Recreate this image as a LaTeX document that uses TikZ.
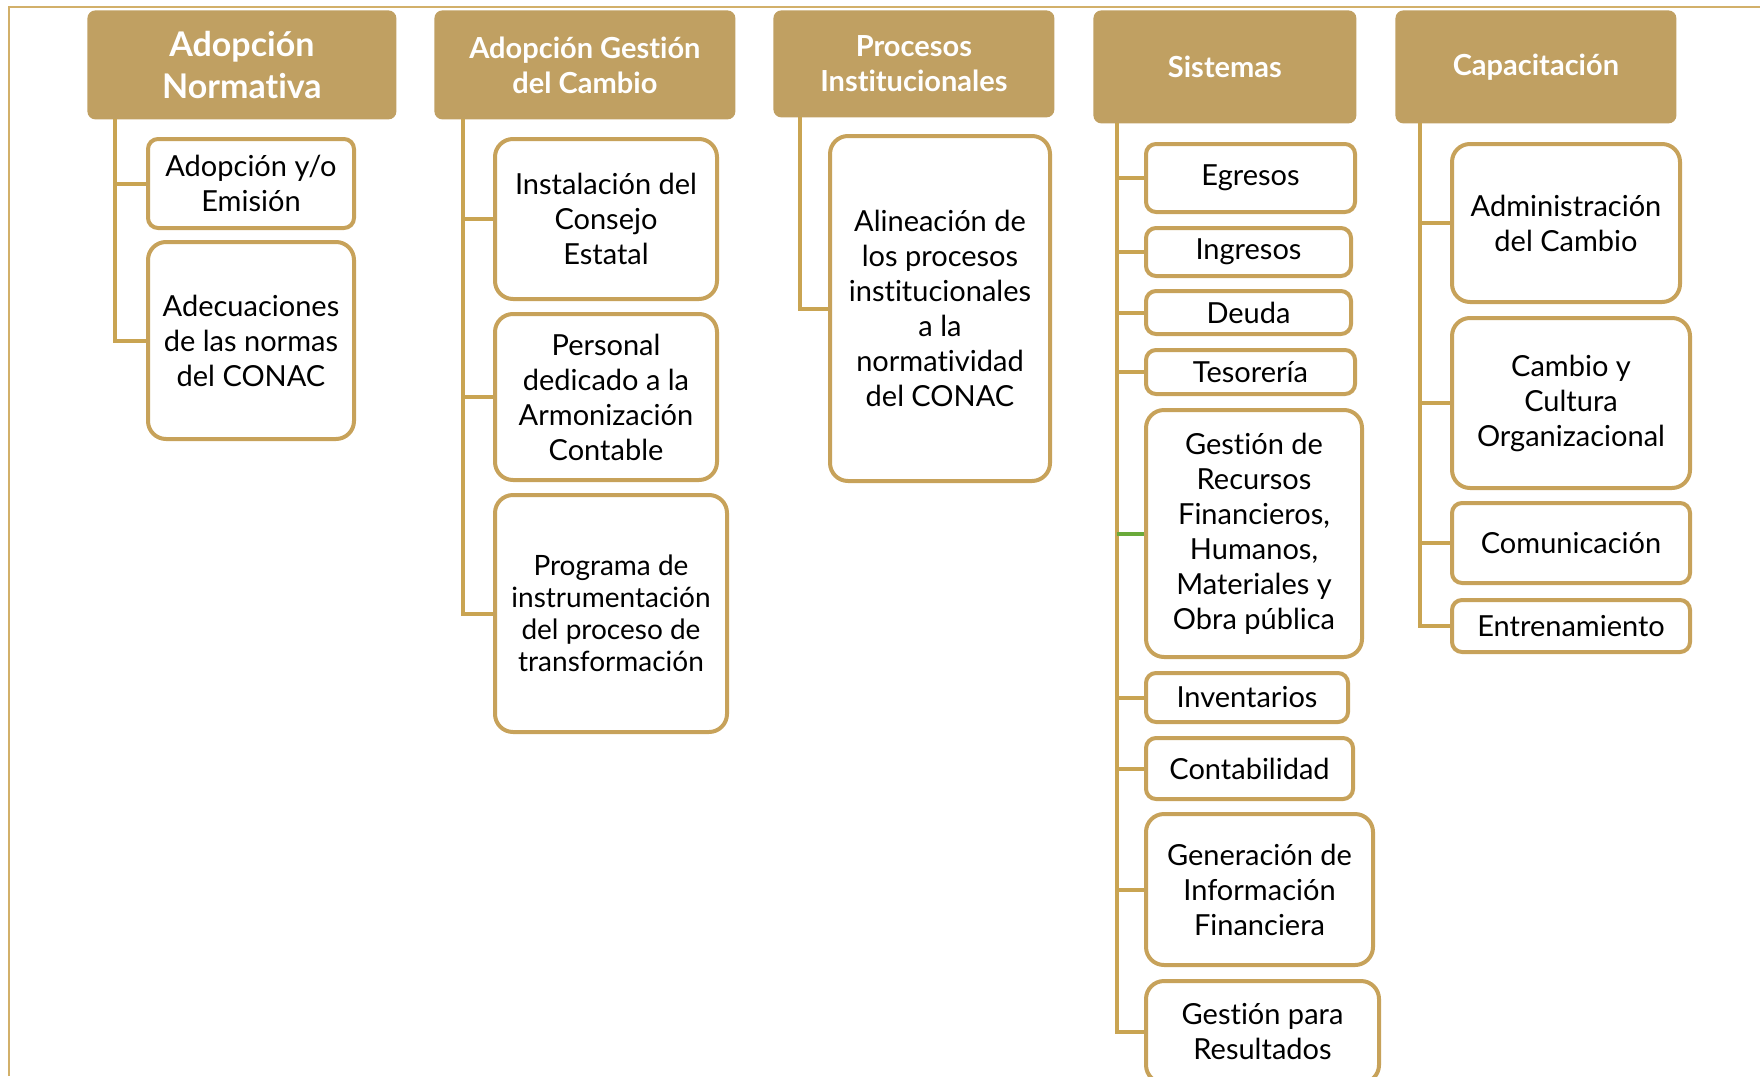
\documentclass[tikz,border=0pt]{standalone}
\usepackage{fontspec}
\setmainfont{Lato}[Ligatures=NoCommon]
\definecolor{hdr}{HTML}{C0A062}
\definecolor{brd}{HTML}{C7A25A}
\definecolor{lnk}{HTML}{C9A452}
\definecolor{frm}{HTML}{D2B06A}
\definecolor{grn}{HTML}{6AAA3A}
\tikzset{
 hdrbox/.style={fill=hdr, draw=none, rounded corners=4pt, text=white, font=\bfseries\fontsize{14.5}{17.5}\selectfont, align=center, inner sep=0pt},
 bighdr/.style={hdrbox, font=\bfseries\fontsize{17}{21}\selectfont},
 itembox/.style={draw=brd, line width=2pt, fill=white, rounded corners=5pt, align=center, inner sep=0pt, font=\fontsize{14.5}{17.5}\selectfont},
 tallbox/.style={itembox, rounded corners=9pt},
 conn/.style={draw=lnk, line width=2pt},
 gconn/.style={draw=grn, line width=2pt},
}
\newcommand\bx[7]{\node[#2, anchor=north west, minimum width={(#5-#3)*0.5pt}, minimum height={(#6-#4)*0.5pt}] (#1) at (#3,#4) {#7};}
\begin{document}
\begin{tikzpicture}[x=0.5pt, y=-0.5pt]
\useasboundingbox (0,0) rectangle (1760,1076);
\clip (0,0) rectangle (1760,1076);
\draw[frm, line width=1pt] (9,1076) -- (9,7) -- (1760,7);
% headers
\bx{h1}{bighdr}{87}{10}{396}{119}{Adopción\\Normativa}
\bx{h2}{hdrbox}{434}{10}{735}{119}{Adopción Gestión\\del Cambio}
\bx{h3}{hdrbox}{773}{10}{1054}{117}{Procesos\\Institucionales}
\bx{h4}{hdrbox}{1093}{10}{1356}{123}{Sistemas}
\bx{h5}{hdrbox}{1395}{10}{1676}{123}{Capacitación}
% column 1
\bx{a1}{itembox}{146}{137}{352}{226}{Adopción y/o\\Emisión}
\bx{a2}{tallbox}{146}{240}{352}{437}{Adecuaciones\\de las normas\\del CONAC}
% column 2
\bx{b1}{tallbox}{493}{137}{715}{297}{Instalación del\\Consejo\\Estatal}
\bx{b2}{tallbox}{493}{312}{715}{478}{Personal\\dedicado a la\\Armonización\\Contable}
\bx{b3}{tallbox, font=\fontsize{14}{16}\selectfont}{493}{493}{725}{730}{Programa de\\instrumentación\\del proceso de\\transformación}
% column 3
\bx{c1}{tallbox}{828}{134}{1048}{479}{Alineación de\\los procesos\\institucionales\\a la\\normatividad\\del CONAC}
% column 4
\bx{d1}{itembox}{1144}{142}{1353}{210}{Egresos}
\bx{d2}{itembox}{1144}{226}{1349}{274}{Ingresos}
\bx{d3}{itembox}{1144}{289}{1349}{332}{Deuda}
\bx{d4}{itembox}{1144}{348}{1353}{392}{Tesorería}
\bx{d5}{tallbox}{1144}{408}{1360}{655}{Gestión de\\Recursos\\Financieros,\\Humanos,\\Materiales y\\Obra pública}
\bx{d6}{itembox}{1144}{671}{1346}{720}{Inventarios}
\bx{d7}{itembox}{1144}{736}{1351}{797}{Contabilidad}
\bx{d8}{tallbox}{1144}{812}{1371}{963}{Generación de\\Información\\Financiera}
\bx{d9}{tallbox}{1144}{979}{1377}{1081}{Gestión para\\Resultados}
% column 5
\bx{e1}{tallbox}{1450}{142}{1678}{300}{Administración\\del Cambio}
\bx{e2}{tallbox}{1450}{316}{1688}{486}{Cambio y\\Cultura\\Organizacional}
\bx{e3}{itembox}{1450}{501}{1688}{581}{Comunicación}
\bx{e4}{itembox}{1450}{598}{1688}{650}{Entrenamiento}
% trunks
\coordinate (t1) at (115,119);
\coordinate (t2) at (463,119);
\coordinate (t3) at (800,117);
\coordinate (t4) at (1117,123);
\coordinate (t5) at (1420,123);
\foreach \c in {a1,a2} \draw[conn] (t1) |- (\c.west);
\foreach \c in {b1,b2,b3} \draw[conn] (t2) |- (\c.west);
\draw[conn] (t3) |- (c1.west);
\foreach \c in {d1,d2,d3,d4,d6,d7,d8,d9} \draw[conn] (t4) |- (\c.west);
\draw[gconn] (t4 |- d5.west) -- (d5.west);
\foreach \c in {e1,e2,e3,e4} \draw[conn] (t5) |- (\c.west);
\end{tikzpicture}
\end{document}
